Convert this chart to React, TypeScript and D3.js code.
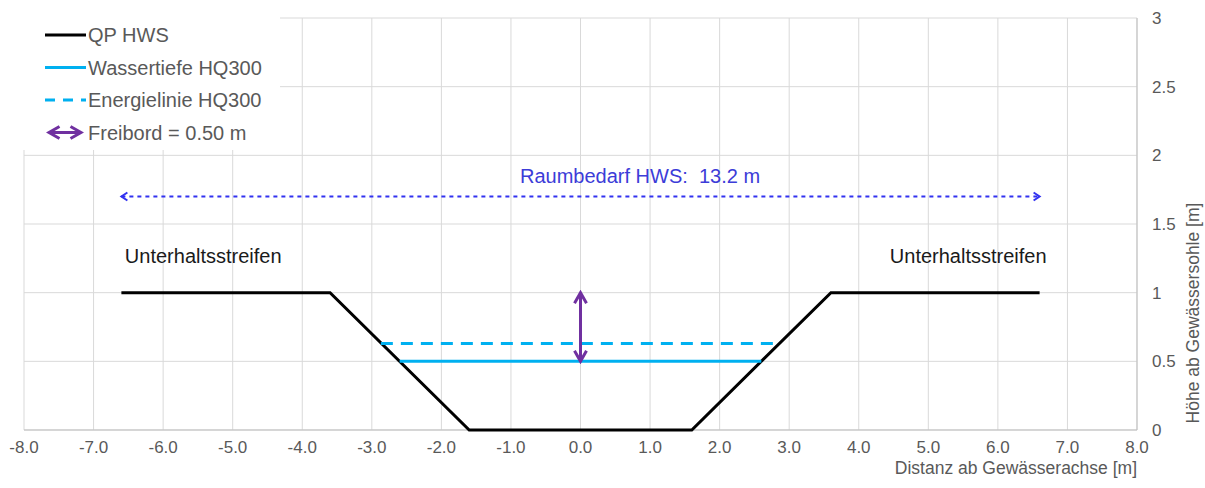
import React from "react";
import { scaleLinear, line, range } from "d3";

const width = 1205;
const height = 488;

// data
const profileX = [-6.6, -3.6, -1.6, 1.6, 3.6, 6.6];
const profileY = [1, 1, 0, 0, 1, 1];
const waterX = [-2.6, 2.6];
const waterY = [0.5, 0.5];
const energyX = [-2.87, 2.87];
const energyY = [0.63, 0.63];
const freibordX = [0, 0];
const freibordY = [0.5, 1.0];
const raumX = [-6.6, 6.6];
const raumY = [1.7, 1.7];

const xTicks = range(-8, 8.01, 1);
const yTicks = [0, 0.5, 1, 1.5, 2, 2.5, 3];

const legendLabels = ["QP HWS", "Wassertiefe HQ300", "Energielinie HQ300", "Freibord = 0.50 m"];

const font = "'Liberation Sans', Arial, sans-serif";
const gray = "#595959";
const grid = "#d9d9d9";
const cyan = "#00b0f0";
const purple = "#7030a0";
const blue = "#3232f0";

const xScale = scaleLinear().domain([-8, 8]).range([24, 1137]);
const yScale = scaleLinear().domain([0, 3]).range([430, 18]);

const toPts = (xs: number[], ys: number[]) => xs.map((x, i) => [x, ys[i]] as [number, number]);
const path = line<[number, number]>()
  .x((d) => xScale(d[0]))
  .y((d) => yScale(d[1]));

export default function App() {
  return (
    <svg
      width={width}
      height={height}
      style={{ position: "absolute", left: 0, top: 0, background: "#fff" }}
      fontFamily={font}
    >
      <defs>
        <marker id="chevPurple" viewBox="0 0 10 10" refX="8" refY="5" markerWidth="5" markerHeight="5" orient="auto-start-reverse" markerUnits="strokeWidth">
          <path d="M1,1 L8,5 L1,9" fill="none" stroke={purple} strokeWidth="2" />
        </marker>
        <marker id="chevBlue" viewBox="0 0 10 10" refX="8" refY="5" markerWidth="5" markerHeight="6" orient="auto-start-reverse" markerUnits="strokeWidth">
          <path d="M2,1 L8,5 L2,9" fill="none" stroke={blue} strokeWidth="2" />
        </marker>
      </defs>

      {/* grid */}
      {xTicks.map((t) => (
        <line key={"gx" + t} x1={xScale(t)} x2={xScale(t)} y1={yScale(3)} y2={yScale(0)} stroke={grid} />
      ))}
      {yTicks.map((t) => (
        <line key={"gy" + t} x1={xScale(-8)} x2={xScale(8)} y1={yScale(t)} y2={yScale(t)} stroke={grid} />
      ))}
      {/* axes lines */}
      <line x1={xScale(-8)} x2={xScale(8)} y1={yScale(0)} y2={yScale(0)} stroke="#bfbfbf" />
      <line x1={xScale(8)} x2={xScale(8)} y1={yScale(3)} y2={yScale(0)} stroke="#bfbfbf" />

      {/* x ticks */}
      {xTicks.map((t) => (
        <text key={"tx" + t} x={xScale(t)} y={453} textAnchor="middle" fontSize={17} fill={gray}>
          {t.toFixed(1)}
        </text>
      ))}
      {/* y ticks */}
      {yTicks.map((t) => (
        <text key={"ty" + t} x={1152} y={yScale(t) + 6} fontSize={17} fill={gray}>
          {String(t)}
        </text>
      ))}
      <text x={1137} y={474} textAnchor="end" fontSize={17.5} fill={gray}>
        Distanz ab Gewässerachse [m]
      </text>
      <text transform="translate(1199,313) rotate(-90)" textAnchor="middle" fontSize={17.5} fill={gray}>
        Höhe ab Gewässersohle [m]
      </text>

      {/* marks */}
      <path d={path(toPts(profileX, profileY)) || ""} fill="none" stroke="#000" strokeWidth={3} />
      <path d={path(toPts(waterX, waterY)) || ""} fill="none" stroke={cyan} strokeWidth={3} />
      <path d={path(toPts(energyX, energyY)) || ""} fill="none" stroke={cyan} strokeWidth={3} strokeDasharray="12 8" />
      <path
        d={path(toPts(freibordX, freibordY)) || ""}
        fill="none"
        stroke={purple}
        strokeWidth={3}
        markerStart="url(#chevPurple)"
        markerEnd="url(#chevPurple)"
      />
      <path
        d={path(toPts(raumX, raumY)) || ""}
        fill="none"
        stroke={blue}
        strokeWidth={2}
        strokeDasharray="4 4"
        markerStart="url(#chevBlue)"
        markerEnd="url(#chevBlue)"
      />

      {/* annotations */}
      <text x={xScale(-0.87)} y={183} fontSize={20} fill="#3c3cd8" style={{ whiteSpace: "pre" }}>
        {"Raumbedarf HWS:  13.2 m"}
      </text>
      <text x={xScale(-6.55)} y={263} fontSize={20} fill="#1a1a1a">
        Unterhaltsstreifen
      </text>
      <text x={xScale(6.7)} y={263} textAnchor="end" fontSize={20} fill="#1a1a1a">
        Unterhaltsstreifen
      </text>

      {/* legend */}
      <rect x={0} y={0} width={280} height={150} fill="#fff" />
      {legendLabels.map((label, i) => {
        const cy = 35 + i * 32.5;
        return (
          <g key={label}>
            {i === 0 && <line x1={45} x2={86} y1={cy} y2={cy} stroke="#000" strokeWidth={3} />}
            {i === 1 && <line x1={45} x2={86} y1={cy} y2={cy} stroke={cyan} strokeWidth={3} />}
            {i === 2 && <line x1={45} x2={86} y1={cy} y2={cy} stroke={cyan} strokeWidth={3} strokeDasharray="10 8" />}
            {i === 3 && (
              <line x1={49} x2={81} y1={cy} y2={cy} stroke={purple} strokeWidth={3} markerStart="url(#chevPurple)" markerEnd="url(#chevPurple)" />
            )}
            <text x={88} y={cy + 7} fontSize={20} fill={gray}>
              {label}
            </text>
          </g>
        );
      })}
    </svg>
  );
}
